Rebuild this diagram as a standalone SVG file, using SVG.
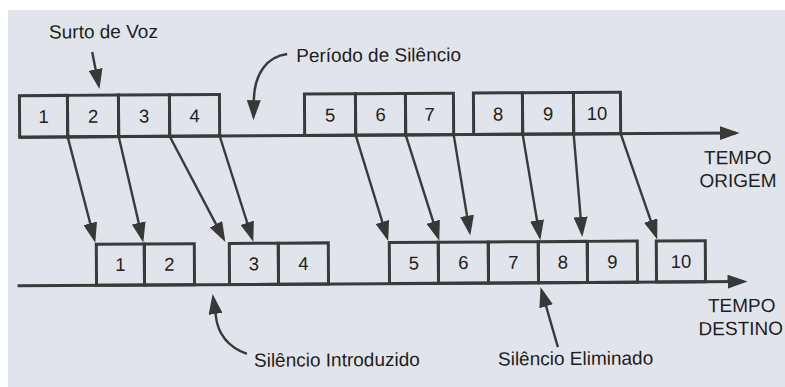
<svg xmlns="http://www.w3.org/2000/svg" width="785" height="387" viewBox="0 0 785 387">
  <defs>
    <marker id="head" markerUnits="userSpaceOnUse" markerWidth="20" markerHeight="14" refX="16" refY="7" orient="auto">
      <path d="M0,0 L20,7 L0,14 z" fill="#383838"/>
    </marker>
    <style>
      .box { fill: none; stroke: #3a3a3a; stroke-width: 3; }
      .axis { fill: none; stroke: #3a3a3a; stroke-width: 3; }
      .conn { fill: none; stroke: #3a3a3a; stroke-width: 2.4; marker-end: url(#head); }
      .num { font-family: "Liberation Sans", Arial, sans-serif; font-size: 18.5px; fill: #222; text-anchor: middle; }
      .lbl { font-family: "Liberation Sans", Arial, sans-serif; font-size: 19px; fill: #1e1e1e; }
      .mid { text-anchor: middle; }
    </style>
  </defs>

  <!-- paper -->
  <rect x="0" y="0" width="785" height="387" fill="#ffffff"/>
  <rect x="8" y="10" width="777" height="377" fill="#e2e4eb"/>

  <g transform="rotate(-0.33 392 193)">
    <!-- source timeline -->
    <g id="origem-axis">
      <line class="axis" x1="20" y1="135" x2="736" y2="135" marker-end="url(#head)"/>
      <text class="lbl mid" x="738" y="166">TEMPO</text>
      <text class="lbl mid" x="738" y="189">ORIGEM</text>
    </g>
    <g id="o1"><rect class="box" x="20" y="93.5" width="48" height="41.5"/><text class="num" x="44" y="121">1</text></g>
    <g id="o2"><rect class="box" x="68" y="93.5" width="51" height="41.5"/><text class="num" x="93.5" y="121">2</text></g>
    <g id="o3"><rect class="box" x="119" y="93.5" width="51" height="41.5"/><text class="num" x="144.5" y="121">3</text></g>
    <g id="o4"><rect class="box" x="170" y="93.5" width="50" height="41.5"/><text class="num" x="195" y="121">4</text></g>
    <g id="o5"><rect class="box" x="305" y="93.5" width="51" height="41.5"/><text class="num" x="330.5" y="121">5</text></g>
    <g id="o6"><rect class="box" x="356" y="93.5" width="50" height="41.5"/><text class="num" x="381" y="121">6</text></g>
    <g id="o7"><rect class="box" x="406" y="93.5" width="48" height="41.5"/><text class="num" x="430" y="121">7</text></g>
    <g id="o8"><rect class="box" x="474" y="93.5" width="49" height="41.5"/><text class="num" x="498.5" y="121">8</text></g>
    <g id="o9"><rect class="box" x="523" y="93.5" width="51" height="41.5"/><text class="num" x="548.5" y="121">9</text></g>
    <g id="o10"><rect class="box" x="574" y="93.5" width="47" height="41.5"/><text class="num" x="597.5" y="121">10</text></g>

    <!-- destination timeline -->
    <g id="destino-axis">
      <line class="axis" x1="17" y1="283.6" x2="743" y2="283.6" marker-end="url(#head)"/>
      <text class="lbl mid" x="741" y="314">TEMPO</text>
      <text class="lbl mid" x="740" y="337">DESTINO</text>
    </g>
    <g id="d1"><rect class="box" x="96" y="242.5" width="48" height="41.1"/><text class="num" x="120" y="269.5">1</text></g>
    <g id="d2"><rect class="box" x="144" y="242.5" width="50" height="41.1"/><text class="num" x="169" y="269.5">2</text></g>
    <g id="d3"><rect class="box" x="229" y="242.5" width="49" height="41.1"/><text class="num" x="253.5" y="269.5">3</text></g>
    <g id="d4"><rect class="box" x="278" y="242.5" width="50" height="41.1"/><text class="num" x="303" y="269.5">4</text></g>
    <g id="d5"><rect class="box" x="389" y="242.5" width="49" height="41.1"/><text class="num" x="413.5" y="269.5">5</text></g>
    <g id="d6"><rect class="box" x="438" y="242.5" width="50" height="41.1"/><text class="num" x="463" y="269.5">6</text></g>
    <g id="d7"><rect class="box" x="488" y="242.5" width="50" height="41.1"/><text class="num" x="513" y="269.5">7</text></g>
    <g id="d8"><rect class="box" x="538" y="242.5" width="49" height="41.1"/><text class="num" x="562.5" y="269.5">8</text></g>
    <g id="d9"><rect class="box" x="587" y="242.5" width="50" height="41.1"/><text class="num" x="612" y="269.5">9</text></g>
    <g id="d10"><rect class="box" x="656" y="242.5" width="49" height="41.1"/><text class="num" x="680.5" y="269.5">10</text></g>

    <!-- annotations -->
    <g id="surto-de-voz">
      <text class="lbl" x="50" y="36.5">Surto de Voz</text>
      <line class="conn" x1="93" y1="50.3" x2="99.3" y2="83.4"/>
    </g>
    <g id="periodo-de-silencio">
      <text class="lbl" x="297" y="61.5">Período de Silêncio</text>
      <path class="conn" d="M288,53.4 C268,56 255,72 254.3,100 L254,115.4"/>
    </g>
    <g id="silencio-introduzido">
      <text class="lbl" x="253" y="366">Silêncio Introduzido</text>
      <path class="conn" d="M246,353 C230,347 217,335 215,314 L212.6,297"/>
    </g>
    <g id="silencio-eliminado">
      <text class="lbl" x="497" y="366">Silêncio Eliminado</text>
      <line class="conn" x1="557" y1="348" x2="541.1" y2="291.8"/>
    </g>

    <!-- packet transit: end of each source packet to its arrival at the destination -->
    <g id="connectors">
      <line class="conn" x1="68" y1="135" x2="94" y2="237.1"/>
      <line class="conn" x1="119" y1="135" x2="142.1" y2="237.1"/>
      <line class="conn" x1="170" y1="135" x2="223.2" y2="237.4"/>
      <line class="conn" x1="220" y1="135" x2="251.8" y2="237.2"/>
      <line class="conn" x1="356" y1="135" x2="386.8" y2="237.2"/>
      <line class="conn" x1="406" y1="135" x2="437.8" y2="237.2"/>
      <line class="conn" x1="454" y1="135" x2="469.4" y2="232.1"/>
      <line class="conn" x1="523" y1="135" x2="539.4" y2="237.1"/>
      <line class="conn" x1="574" y1="135" x2="581.7" y2="234"/>
      <line class="conn" x1="621" y1="135" x2="655.7" y2="237.2"/>
    </g>
  </g>
</svg>
